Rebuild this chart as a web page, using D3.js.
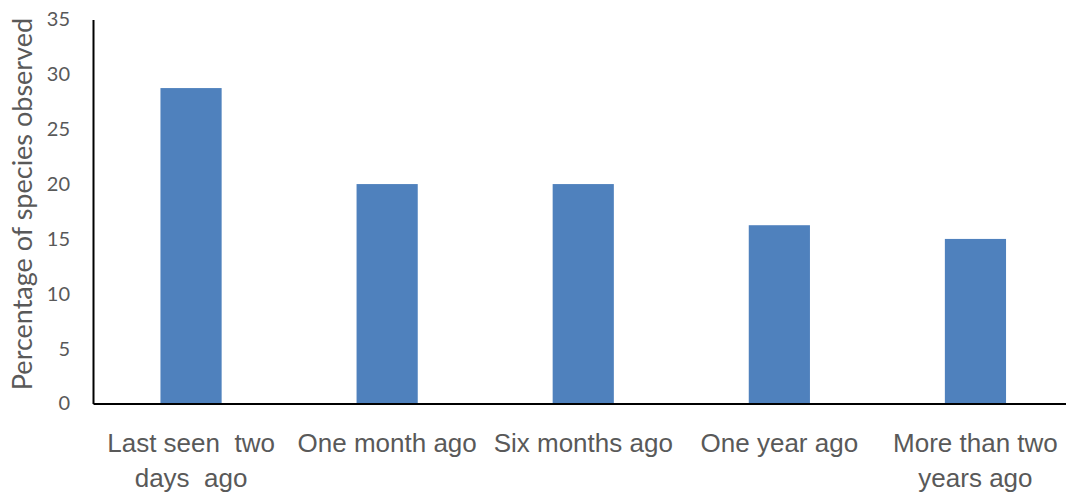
<!DOCTYPE html>
<html>
<head>
<meta charset="utf-8">
<script src="https://cdn.jsdelivr.net/npm/d3@7"></script>
<style>
  body { margin: 0; background: #fff; }
  svg { display: block; font-family: Lato, "Open Sans", sans-serif; }
  .tick text { fill: #595959; }
</style>
</head>
<body>
<svg width="1066" height="493"></svg>
<script>
const width = 1066;
const height = 493;

// categories (line breaks as in the original wrapped labels)
const categories = [
    "Last seen  two\ndays  ago",
    "One month ago",
    "Six months ago",
    "One year ago",
    "More than two\nyears ago"
];
const values = [28.75, 20, 20, 16.25, 15];
const yTicks = [0, 5, 10, 15, 20, 25, 30, 35];
const yAxisLabel = "Percentage of species observed";

const svg = d3.select('svg');

const margin = { top: 19.5, left: 93, bottom: 89.5 };
const plotRight = 93 + 5 * 196.1;

const xScale = d3.scaleBand()
    .domain(categories)
    .range([margin.left, plotRight])
    .paddingInner(0.688)
    .paddingOuter(0.344);

const yScale = d3.scaleLinear()
    .domain([0, 35])
    .range([height - margin.bottom, margin.top]);

// bars
svg.append('g')
    .selectAll('rect')
    .data(values)
    .enter()
    .append('rect')
    .attr('x', (d, i) => xScale(categories[i]))
    .attr('y', d => yScale(d))
    .attr('width', xScale.bandwidth())
    .attr('height', d => yScale(0) - yScale(d))
    .attr('fill', '#4f81bd');

// y axis
const yAxis = d3.axisLeft(yScale)
    .tickValues(yTicks)
    .tickSize(0)
    .tickPadding(23);

const yAxisG = svg.append('g')
    .attr('transform', 'translate(' + margin.left + ',0)')
    .call(yAxis);
yAxisG.select('.domain')
    .attr('stroke', '#000')
    .attr('stroke-width', 2);
yAxisG.selectAll('.tick text')
    .attr('font-size', 20)
    .attr('font-family', 'Lato, sans-serif');

// x axis
const xAxis = d3.axisBottom(xScale)
    .tickSize(0)
    .tickFormat('');

const xAxisG = svg.append('g')
    .attr('transform', 'translate(0,' + yScale(0) + ')')
    .call(xAxis);
xAxisG.select('.domain')
    .attr('stroke', '#000')
    .attr('stroke-width', 2);

xAxisG.selectAll('.tick')
    .append('text')
    .attr('fill', '#595959')
    .attr('font-size', 26)
    .attr('text-anchor', 'middle')
    .style('white-space', 'pre')
    .each(function(d) {
        const lines = d.split('\n');
        const t = d3.select(this);
        lines.forEach((line, i) => {
            t.append('tspan')
                .attr('x', 0)
                .attr('y', 48 + i * 35)
                .text(line);
        });
    });

// y axis title
svg.append('text')
    .text(yAxisLabel)
    .attr('fill', '#595959')
    .attr('font-size', 27)
    .attr('text-anchor', 'middle')
    .attr('transform', 'translate(32,' + 204 + ') rotate(-90)');
</script>
</body>
</html>
